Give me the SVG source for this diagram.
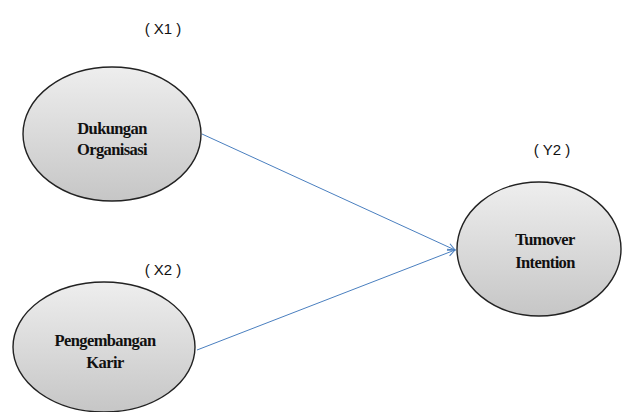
<svg xmlns="http://www.w3.org/2000/svg" width="622" height="412" viewBox="0 0 622 412">
<defs>
<linearGradient id="g" x1="0" y1="0" x2="0" y2="1">
<stop offset="0" stop-color="#eeeeee"/>
<stop offset="1" stop-color="#c6c6c6"/>
</linearGradient>
<marker id="arr" viewBox="0 0 10 10" refX="9" refY="5" markerWidth="9" markerHeight="9" markerUnits="userSpaceOnUse" orient="auto">
<path d="M1,1 L9,5 L1,9" fill="none" stroke="#4a7fbf" stroke-width="1.2"/>
</marker>
</defs>
<style>
.node ellipse{fill:url(#g);stroke:#222;stroke-width:1.4}
.lbl{font-family:"Liberation Serif",serif;font-weight:bold;font-size:16.5px;fill:#111;text-anchor:middle;letter-spacing:-0.6px}
.tag{font-family:"Liberation Sans",sans-serif;font-size:15px;fill:#111;text-anchor:middle}
.conn line{stroke:#4a7fbf;stroke-width:1;marker-end:url(#arr)}
</style>
<rect width="622" height="412" fill="#fff"/>
<text class="tag" x="163" y="34">( X1 )</text>
<text class="tag" x="163" y="275">( X2 )</text>
<text class="tag" x="552" y="155">( Y2 )</text>
<g class="conn">
<line x1="202" y1="134" x2="455" y2="250"/>
<line x1="197" y1="350" x2="455" y2="250"/>
</g>
<g id="x1" class="node">
<ellipse cx="112" cy="134" rx="89" ry="67"/>
<text class="lbl" x="112" y="134">Dukungan</text>
<text class="lbl" x="112" y="155">Organisasi</text>
</g>
<g id="x2" class="node">
<ellipse cx="104" cy="347" rx="91" ry="65"/>
<text class="lbl" x="105" y="346">Pengembangan</text>
<text class="lbl" x="105" y="368">Karir</text>
</g>
<g id="y2" class="node">
<ellipse cx="539" cy="249" rx="82" ry="67"/>
<text class="lbl" x="545" y="245">Tumover</text>
<text class="lbl" x="545" y="268">Intention</text>
</g>
</svg>
